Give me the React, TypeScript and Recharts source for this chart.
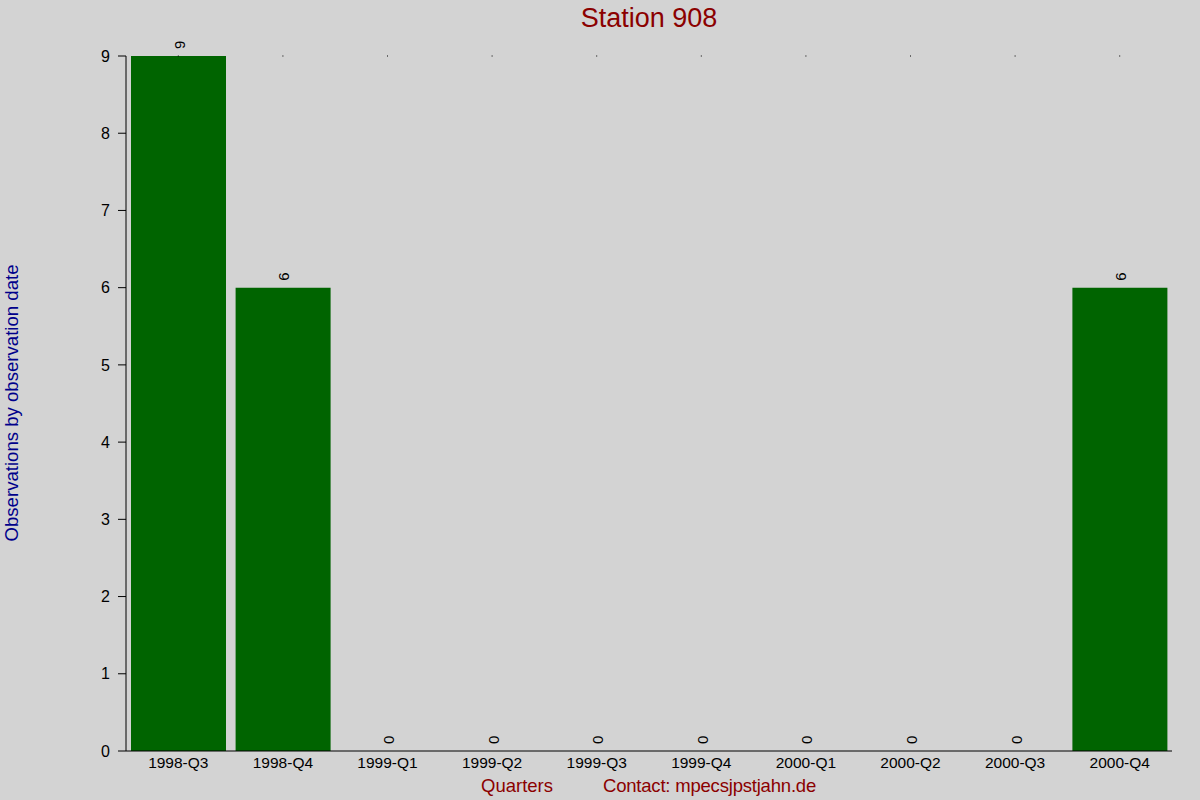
import { Bar, ComposedChart, LabelList, Line, XAxis, YAxis } from 'recharts'

const quarters = ['1998-Q3', '1998-Q4', '1999-Q1', '1999-Q2', '1999-Q3', '1999-Q4', '2000-Q1', '2000-Q2', '2000-Q3', '2000-Q4']
const observations = [9, 6, 0, 0, 0, 0, 0, 0, 0, 6]
const yTicks = [0, 1, 2, 3, 4, 5, 6, 7, 8, 9]
// small marks drawn at the top of the scale for every quarter
const topMarks = [9, 9, 9, 9, 9, 9, 9, 9, 9, 9]

const data = quarters.map((q, i) => ({ quarter: q, count: observations[i], top: topMarks[i] }))

const font = 'Arial, "Liberation Sans", Helvetica, sans-serif'

// value label, rotated to read bottom-to-top, sitting just above the bar
function ValueLabel(props: any) {
  const { x, y, value } = props
  return (
    <text
      transform={`translate(${x + 1},${y - 7}) rotate(-90)`}
      textAnchor="start"
      dominantBaseline="central"
      fontSize={15}
      fontFamily={font}
      fill="#000"
    >
      {value}
    </text>
  )
}

function TopDot(props: any) {
  const { cx, cy } = props
  return <rect x={cx - 0.5} y={cy - 0.5} width={1} height={1} fill="#000" />
}

export default function App() {
  return (
    <div style={{ position: 'absolute', left: 0, top: 0, width: 1200, height: 800, background: '#d3d3d3', fontFamily: font }}>
      <ComposedChart
        width={1200}
        height={800}
        data={data}
        margin={{ top: 56, right: 28, left: 0, bottom: 0 }}
      >
        <XAxis
          dataKey="quarter"
          height={49}
          tickLine={false}
          tickSize={0}
          tickMargin={6}
          axisLine={{ stroke: '#000' }}
          tick={{ fill: '#000', fontSize: 15.5, fontFamily: font }}
          interval={0}
        />
        <YAxis
          width={126}
          domain={[0, 9]}
          ticks={yTicks}
          tickSize={8}
          tickMargin={8}
          axisLine={{ stroke: '#000' }}
          tickLine={{ stroke: '#000' }}
          tick={{ fill: '#000', fontSize: 16, fontFamily: font }}
          allowDecimals={false}
        />
        <Bar dataKey="count" fill="#006400" barSize={95} isAnimationActive={false} />
        <Line dataKey="top" stroke="none" dot={<TopDot />} activeDot={false} isAnimationActive={false} />
        <Line dataKey="count" stroke="none" dot={false} activeDot={false} isAnimationActive={false}>
          <LabelList dataKey="count" content={<ValueLabel />} />
        </Line>
      </ComposedChart>

      <div style={{ position: 'absolute', left: 0, width: 1298, top: 2, textAlign: 'center', fontSize: 27, color: '#8b0000', lineHeight: '32px' }}>
        Station 908
      </div>

      <div
        style={{
          position: 'absolute',
          left: 12,
          top: 403,
          transform: 'translate(-50%, -50%) rotate(-90deg)',
          whiteSpace: 'nowrap',
          fontSize: 18.6,
          color: '#00008b',
        }}
      >
        Observations by observation date
      </div>

      <div style={{ position: 'absolute', left: 481, top: 775, fontSize: 18.5, color: '#8b0000', whiteSpace: 'nowrap', lineHeight: '22px' }}>
        Quarters
      </div>
      <div style={{ position: 'absolute', left: 603, top: 775, fontSize: 18.5, color: '#8b0000', whiteSpace: 'nowrap', lineHeight: '22px', letterSpacing: -0.2 }}>
        Contact: mpecsjpstjahn.de
      </div>
    </div>
  )
}
